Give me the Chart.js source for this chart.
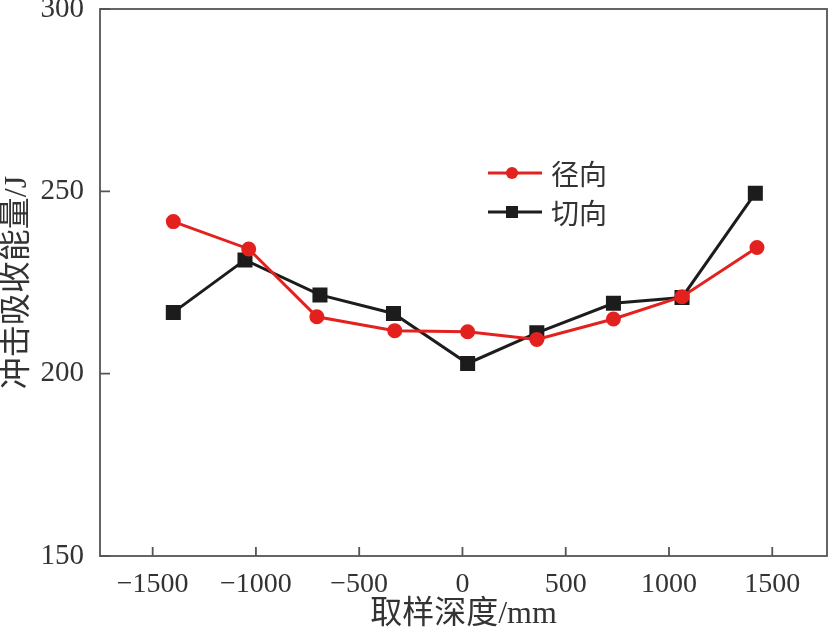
<!DOCTYPE html>
<html>
<head>
<meta charset="utf-8">
<script src="https://cdn.jsdelivr.net/npm/chart.js@4.4.0/dist/chart.umd.min.js"></script>
<style>
  html, body { margin: 0; padding: 0; background: #fff; overflow: hidden; }
  #wrap { width: 828px; height: 636px; }
  canvas { display: block; }
</style>
</head>
<body>
<div id="wrap"><canvas id="c" width="828" height="636"></canvas></div>
<script>
// depth of sample (mm) and impact absorbed energy (J)
var radialDepth = [-1400, -1035, -705, -328, 25, 360, 731, 1063, 1426];
var radialEnergy = [241.7, 234.2, 215.6, 211.8, 211.5, 209.4, 215.0, 221.1, 234.6];
var tangentDepth = [-1400, -1053, -690, -334, 25, 360, 731, 1063, 1418];
var tangentEnergy = [216.8, 231.2, 221.6, 216.5, 202.8, 211.2, 219.3, 220.9, 249.5];

var xTicks = [-1500, -1000, -500, 0, 500, 1000, 1500];
var yTicks = [150, 200, 250, 300];

var seriesNames = ["径向", "切向"];
var RED = "#e3211f";
var BLACK = "#1c1c1c";
var AXIS = "#555555";

function toPoints(xs, ys) {
  return xs.map(function (x, i) { return { x: x, y: ys[i] }; });
}

// frame + inward tick marks + legend inside the plot
var framePlugin = {
  id: "frame",
  afterDraw: function (chart) {
    var ctx = chart.ctx;
    var a = chart.chartArea;
    var xs = chart.scales.x, ys = chart.scales.y;
    ctx.save();
    ctx.strokeStyle = AXIS;
    ctx.lineWidth = 1.8;
    ctx.strokeRect(a.left, a.top, a.right - a.left, a.bottom - a.top);
    ctx.beginPath();
    xTicks.forEach(function (v) {
      var px = xs.getPixelForValue(v);
      ctx.moveTo(px, a.bottom);
      ctx.lineTo(px, a.bottom - 9);
    });
    yTicks.forEach(function (v) {
      var py = ys.getPixelForValue(v);
      ctx.moveTo(a.left, py);
      ctx.lineTo(a.left + 10, py);
    });
    ctx.stroke();

    // legend
    var lx = 488, ly = [173, 212];
    var cols = [RED, BLACK];
    ctx.font = '28px "Noto Sans CJK SC"';
    ctx.textBaseline = "middle";
    for (var i = 0; i < 2; i++) {
      ctx.strokeStyle = cols[i];
      ctx.fillStyle = cols[i];
      ctx.lineWidth = 3;
      ctx.beginPath();
      ctx.moveTo(lx, ly[i]);
      ctx.lineTo(lx + 54, ly[i]);
      ctx.stroke();
      if (i === 0) {
        ctx.beginPath();
        ctx.arc(lx + 24, ly[i], 6, 0, Math.PI * 2);
        ctx.fill();
      } else {
        ctx.fillRect(lx + 24 - 6, ly[i] - 6, 12, 12);
      }
      ctx.fillStyle = "#333";
      ctx.fillText(seriesNames[i], lx + 63, ly[i] + 1);
    }
    ctx.restore();
  }
};

new Chart(document.getElementById("c"), {
  type: "scatter",
  data: {
    datasets: [
      {
        label: seriesNames[0],
        data: toPoints(radialDepth, radialEnergy),
        showLine: true,
        borderColor: RED,
        backgroundColor: RED,
        borderWidth: 3,
        pointStyle: "circle",
        pointRadius: 6,
        pointHoverRadius: 6
      },
      {
        label: seriesNames[1],
        data: toPoints(tangentDepth, tangentEnergy),
        showLine: true,
        borderColor: BLACK,
        backgroundColor: BLACK,
        borderWidth: 3,
        pointStyle: "rect",
        pointRadius: 8.5,
        pointHoverRadius: 8.5
      }
    ]
  },
  options: {
    responsive: false,
    animation: false,
    devicePixelRatio: 1,
    layout: { autoPadding: false, padding: { top: 9, right: 1, left: 0, bottom: 0 } },
    plugins: {
      legend: { display: false },
      tooltip: { enabled: false }
    },
    scales: {
      x: {
        type: "linear",
        min: -1755,
        max: 1765,
        grid: { display: false },
        border: { display: false },
        afterBuildTicks: function (s) {
          s.ticks = xTicks.map(function (v) { return { value: v }; });
        },
        afterFit: function (s) {
          s.height = 80;
          s.paddingLeft = 0;
          s.paddingRight = 0;
        },
        ticks: {
          padding: 4,
          color: "#333",
          font: { family: '"Liberation Serif"', size: 28 },
          callback: function (v) { return v < 0 ? "\u2212" + Math.abs(v) : String(v); }
        },
        title: {
          display: true,
          text: "取样深度/mm",
          color: "#333",
          font: { family: '"Liberation Serif", "Noto Sans CJK SC"', size: 32, lineHeight: 1.2 },
          padding: { top: 2, bottom: 2 }
        }
      },
      y: {
        min: 150,
        max: 300,
        grid: { display: false },
        border: { display: false },
        afterBuildTicks: function (s) {
          s.ticks = yTicks.map(function (v) { return { value: v }; });
        },
        afterFit: function (s) {
          s.width = 100;
          s.paddingTop = 0;
          s.paddingBottom = 0;
        },
        ticks: {
          padding: 8,
          color: "#333",
          font: { family: '"Liberation Serif"', size: 29 }
        },
        title: {
          display: true,
          text: "冲击吸收能量/J",
          color: "#333",
          font: { family: '"Liberation Serif", "Noto Sans CJK SC"', size: 32, lineHeight: 1.1 },
          padding: 0
        }
      }
    }
  },
  plugins: [framePlugin]
});
</script>
</body>
</html>
